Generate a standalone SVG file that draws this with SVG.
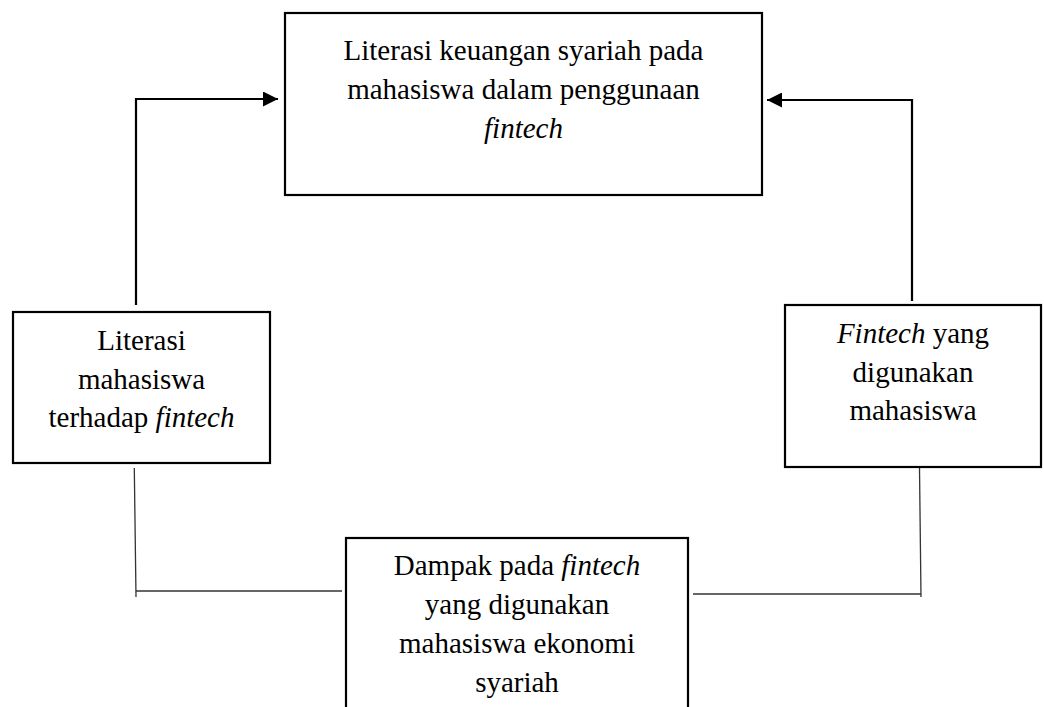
<svg xmlns="http://www.w3.org/2000/svg" width="1044" height="707" viewBox="0 0 1044 707">
<defs>
<style>
.box{fill:#fff;stroke:#000;stroke-width:2.2}
.t{font-family:"Liberation Serif","Times New Roman",serif;font-size:29px;fill:#000;text-anchor:middle}
.i{font-style:italic}
.arr{fill:none;stroke:#000;stroke-width:2.2}
.thin{fill:none;stroke:#333;stroke-width:1.3}
</style>
<marker id="ah" viewBox="0 0 15 15" refX="15" refY="7.5" markerWidth="15" markerHeight="15" markerUnits="userSpaceOnUse" orient="auto">
<path d="M0,0 L15,7.5 L0,15 Z" fill="#000"/>
</marker>
</defs>
<rect width="1044" height="707" fill="#fff"/>
<g id="connectors">
<path class="arr" d="M136,305 V99 H278" marker-end="url(#ah)"/>
<path class="arr" d="M912,301 V100 H767" marker-end="url(#ah)"/>
<path class="thin" d="M134.3,468 L136,597"/>
<path class="thin" d="M136,591 H342"/>
<path class="thin" d="M919.5,468 L921,597"/>
<path class="thin" d="M693,594 H921"/>
</g>
<g id="node-top">
<rect class="box" x="285" y="13" width="477" height="182"/>
<text class="t" x="523.5" y="60">Literasi keuangan syariah pada</text>
<text class="t" x="523.5" y="98.5">mahasiswa dalam penggunaan</text>
<text class="t i" x="523.5" y="137.5">fintech</text>
</g>
<g id="node-left">
<rect class="box" x="13" y="312" width="257" height="151"/>
<text class="t" x="141.5" y="350">Literasi</text>
<text class="t" x="141.5" y="388.5">mahasiswa</text>
<text class="t" x="141.5" y="427">terhadap <tspan class="i">fintech</tspan></text>
</g>
<g id="node-right">
<rect class="box" x="785" y="305" width="256" height="162"/>
<text class="t" x="913" y="343"><tspan class="i">Fintech</tspan> yang</text>
<text class="t" x="913" y="382">digunakan</text>
<text class="t" x="913" y="420">mahasiswa</text>
</g>
<g id="node-bottom">
<rect class="box" x="346" y="538" width="342" height="180"/>
<text class="t" x="517" y="575">Dampak pada <tspan class="i">fintech</tspan></text>
<text class="t" x="517" y="613.5">yang digunakan</text>
<text class="t" x="517" y="653">mahasiswa ekonomi</text>
<text class="t" x="517" y="692">syariah</text>
</g>
</svg>
